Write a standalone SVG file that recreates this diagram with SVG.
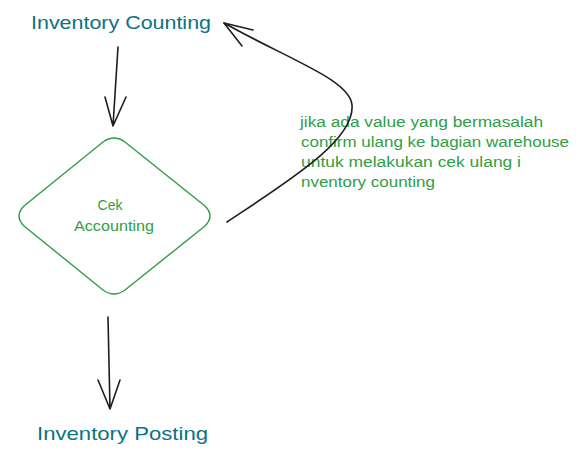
<svg xmlns="http://www.w3.org/2000/svg" width="579" height="454" viewBox="0 0 579 454">
<style>
.title{font-family:"Liberation Sans",Arial,sans-serif;font-size:19px;fill:#0b7285}
.note{font-family:"Liberation Sans",Arial,sans-serif;font-size:14px;fill:#2f9e44}
.edge{fill:none;stroke:#1e1e1e;stroke-width:1.6;stroke-linecap:round;stroke-linejoin:round}
</style>
<rect width="579" height="454" fill="#ffffff"/>
<g id="inventory-counting">
<text class="title" x="31" y="29" textLength="180" lengthAdjust="spacingAndGlyphs">Inventory Counting</text>
</g>
<g id="cek-accounting">
<path d="M103,142 Q114,134 125,142 L205,206 Q215,216 205,226 L125,290 Q114,298 103,290 L24,226 Q14,216 24,206 Z" fill="none" stroke="#2f9e44" stroke-width="1.4"/>
<text class="note" x="110" y="210" text-anchor="middle">Cek</text>
<text class="note" x="114" y="231" text-anchor="middle" textLength="80" lengthAdjust="spacingAndGlyphs">Accounting</text>
</g>
<g id="inventory-posting">
<text class="title" x="37" y="440" textLength="171" lengthAdjust="spacingAndGlyphs">Inventory Posting</text>
</g>
<g id="note">
<text class="note" x="300" y="127" textLength="243" lengthAdjust="spacingAndGlyphs">jika ada value yang bermasalah</text>
<text class="note" x="301" y="147" textLength="268" lengthAdjust="spacingAndGlyphs">confirm ulang ke bagian warehouse</text>
<text class="note" x="301" y="167" textLength="220" lengthAdjust="spacingAndGlyphs">untuk melakukan cek ulang i</text>
<text class="note" x="301" y="187" textLength="134" lengthAdjust="spacingAndGlyphs">nventory counting</text>
</g>
<g id="connectors">
<path class="edge" d="M118,47 L113,126 M105,97 L113,126 L126,97"/>
<path class="edge" d="M108,317 L110,409 M98,380 L110,409 L120,380"/>
<path class="edge" d="M227,222 C290,180 355,140 352,105 C350,80 290,60 224,23"/>
<path class="edge" d="M253,30 L224,23 L242,46"/>
</g>
</svg>
